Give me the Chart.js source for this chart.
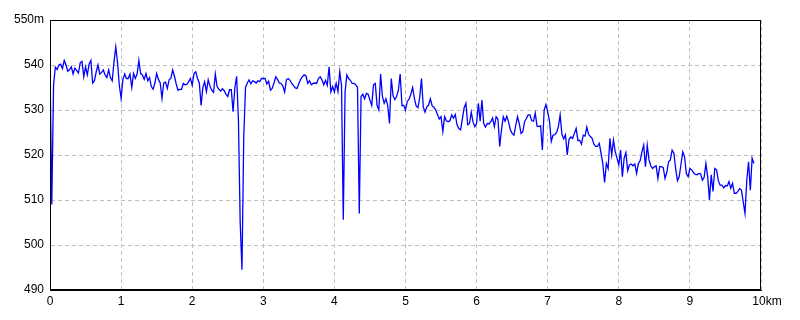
<!DOCTYPE html>
<html>
<head>
<meta charset="utf-8">
<script src="https://cdn.jsdelivr.net/npm/chart.js@4"></script>
<style>
  html, body { margin: 0; padding: 0; background: #fff; }
</style>
</head>
<body>
<canvas id="chart" width="800" height="320"></canvas>
<script>
// elevation (m) sampled every stepKm along the route, one array per km
const stepKm = 0.025;
const km0 = [540, 509, 535.5, 539.5, 539, 540, 540.2, 539.2, 541, 540,
  538.6, 539, 539.6, 538, 539.3, 538.8, 538.2, 540.5, 540.8, 537.4,
  539.6, 537.8, 540.2, 541, 536, 536.5, 538.5, 540, 538, 538.3,
  538.9, 537.8, 537.2, 538.9, 537.2, 536.5, 540.7, 544, 540.5, 535.5];
const km1 = [532.6, 536.7, 538, 537, 537, 538, 535, 538.1, 537, 538,
  541, 538.1, 537.8, 536.8, 538.1, 536.5, 537.2, 535.2, 534.6, 536,
  538.1, 536.8, 536, 532.6, 536, 536.2, 534.8, 536.7, 537, 538.9,
  537.5, 535.8, 534.4, 534.6, 534.6, 535.9, 535.6, 535.7, 536.3, 537];
const km2 = [535.5, 538.1, 538.5, 537, 536, 531, 535, 536.3, 534.1, 536.7,
  535.3, 534.4, 533.9, 538, 535.2, 534.6, 534.2, 534.7, 534.3, 533.5,
  533, 534.5, 534.5, 529.6, 535, 537.5, 528, 505, 494.5, 524,
  535, 536, 536.7, 535.8, 536.5, 536.3, 536, 536.5, 536.3, 537];
const km3 = [537, 537, 535.8, 536.4, 534.4, 534.8, 536, 537.4, 536.8, 536,
  535.9, 535.3, 534, 536.7, 537, 536.6, 535.9, 535.4, 534.9, 534.8,
  535.9, 536.8, 537.4, 537.8, 537.6, 535.9, 536.5, 535.6, 535.9, 536,
  535.9, 537, 537.4, 536.7, 535.6, 536.6, 535.5, 539.6, 534, 535.2];
const km4 = [534, 535.9, 534.1, 538.5, 535.5, 505.6, 534, 537.8, 537, 536.6,
  535.9, 535.9, 535.6, 535, 507, 533, 533.5, 532.5, 533.7, 533.5,
  532.2, 531, 535.6, 535.9, 531, 530, 538, 533, 531.5, 532.5,
  531, 527, 537, 533.2, 532.3, 533, 534.4, 538, 531, 531];
const km5 = [530, 531.9, 532.4, 533.5, 535, 532.6, 530.9, 530.5, 532.8, 537,
  530.7, 529.5, 530.7, 531.1, 532.5, 530.9, 530.6, 530, 529, 528,
  528.5, 525.2, 528.5, 527.6, 527.4, 527.6, 528.9, 528.2, 529, 526.7,
  525.9, 525.6, 528.1, 530.5, 531.5, 526.7, 527, 529.5, 527.3, 526.3];
const km6 = [527, 531.5, 527.5, 532.2, 527, 526.2, 527, 526.9, 527.4, 528.2,
  526.3, 528.5, 528, 521.9, 525.6, 528.5, 527.5, 528.6, 527.3, 525.6,
  524.8, 524.4, 526.5, 528.5, 527, 524.8, 525.2, 527.4, 528.1, 528.9,
  528.9, 527.6, 527.5, 529.3, 526.4, 526.3, 526.5, 521.1, 530, 531.2];
const km7 = [529.6, 527.6, 523, 524.4, 524.5, 525, 526.3, 528.9, 524.6, 523.6,
  524.5, 520, 523.5, 524, 523.7, 524.8, 525.9, 523.2, 523.3, 522.4,
  524.4, 524.2, 526.2, 524.6, 524.1, 523.7, 522.4, 521.9, 521.9, 522.6,
  520.4, 518.1, 513.9, 518.1, 517, 523.7, 520, 523.3, 520.7, 519.3];
const km8 = [517.8, 521.1, 515.2, 519.3, 520.5, 516.5, 517.8, 518, 517.6, 518,
  515.9, 518.1, 518.7, 520.7, 522.2, 517.4, 522.2, 518.9, 517.6, 517,
  517.4, 517.6, 514.8, 517.4, 517.4, 517.2, 514.8, 516.1, 518.5, 518.9,
  521.1, 520.4, 516.9, 514.3, 515.2, 518, 520.7, 519.6, 515.9, 515.2];
const km9 = [517, 516.7, 516.1, 515.7, 515.6, 515.9, 515.8, 514.4, 515, 518.1,
  515.2, 510, 515.6, 511.9, 517, 516.7, 514.3, 513.3, 513.3, 512.7,
  513.2, 513.1, 514.1, 512.6, 513.7, 511.5, 511.5, 511.9, 512.5, 512.2,
  509.6, 507, 514.4, 518.5, 512.2, 519.3, 518.1];

const xTicks = [0, 1, 2, 3, 4, 5, 6, 7, 8, 9, 10];
const yTicks = [490, 500, 510, 520, 530, 540, 550];

const elevation = [].concat(km0, km1, km2, km3, km4, km5, km6, km7, km8, km9);
const points = elevation.map((v, i) => ({ x: i * stepKm, y: v }));

const font = { family: 'Liberation Sans, Arial, sans-serif', size: 12 };

const frame = {
  id: 'frame',
  afterDraw(c){
    const a = c.chartArea, g = c.ctx;
    g.save();
    g.strokeStyle = '#000';
    g.lineWidth = 1;
    g.strokeRect(Math.round(a.left) + 0.5, Math.round(a.top) + 0.5,
      Math.round(a.right - a.left) - 1, Math.round(a.bottom - a.top) - 1);
    g.restore();
  }
};

new Chart(document.getElementById('chart'), {
  type: 'line',
  data: {
    datasets: [{
      data: points,
      borderColor: '#0000ff',
      borderWidth: 1.3,
      pointRadius: 0,
      tension: 0,
      fill: false
    }]
  },
  options: {
    responsive: false,
    animation: false,
    layout: { padding: { top: 20, right: 39, bottom: 0, left: 0 } },
    plugins: { legend: { display: false }, tooltip: { enabled: false } },
    scales: {
      x: {
        type: 'linear', min: 0, max: 10,
        afterBuildTicks: s => { s.ticks = xTicks.map(v => ({ value: v })); },
        afterFit: s => { s.height = 30; },
        // the unit sits after the last number, so pad it to keep "10" on its tick
        ticks: { callback: v => v === 10 ? '\u2002\u200210km' : String(v), color: '#000', font, padding: 4, maxRotation: 0 },
        grid: { color: '#c0c0c0', drawTicks: false },
        border: { color: '#000', dash: [4, 3] }
      },
      y: {
        min: 490, max: 550,
        afterBuildTicks: s => { s.ticks = yTicks.map(v => ({ value: v })); },
        afterFit: s => { s.width = 50; },
        ticks: { callback: v => v === 550 ? '550m' : String(v), color: '#000', font, padding: 6 },
        grid: { color: '#c0c0c0', drawTicks: false },
        border: { color: '#000', dash: [4, 3] }
      }
    }
  },
  plugins: [frame]
});
</script>
</body>
</html>
